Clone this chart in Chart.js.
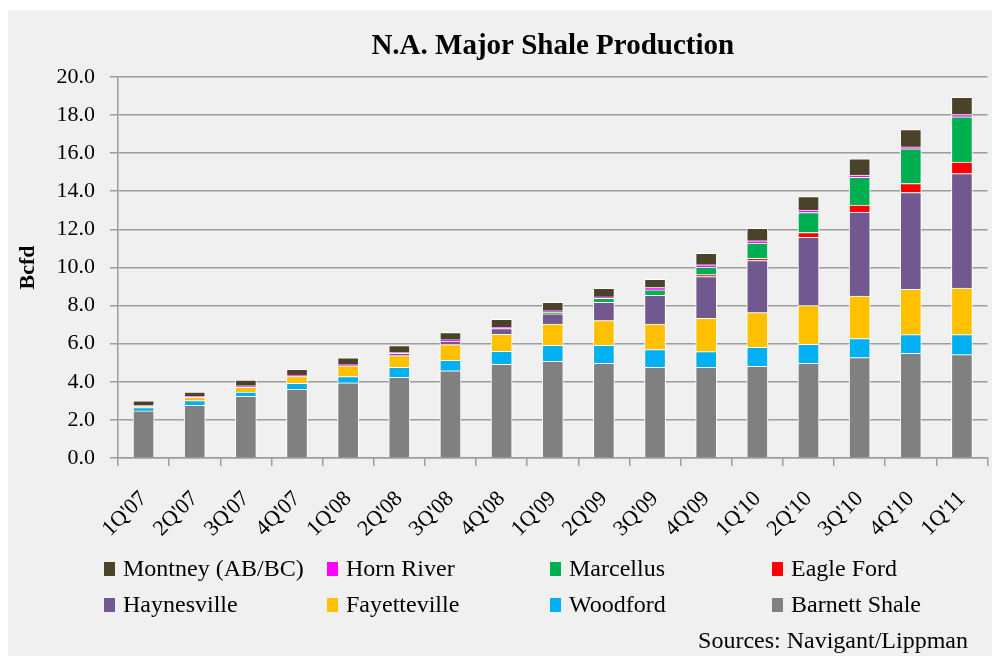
<!DOCTYPE html>
<html lang="en">
<head>
<meta charset="utf-8">
<title>N.A. Major Shale Production</title>
<script src="https://cdn.jsdelivr.net/npm/chart.js@4.4.1/dist/chart.umd.min.js"></script>
<style>
  body { margin: 0; background: #fff; }
  #wrap { width: 1001px; height: 656px; }
</style>
</head>
<body>
<div id="wrap"><canvas id="chart" width="1001" height="656"></canvas></div>
<script>
const quarters = ["1Q'07", "2Q'07", "3Q'07", "4Q'07", "1Q'08", "2Q'08", "3Q'08", "4Q'08",
                  "1Q'09", "2Q'09", "3Q'09", "4Q'09", "1Q'10", "2Q'10", "3Q'10", "4Q'10", "1Q'11"];

// Bcfd per play, bottom of the stack first
const barnett      = [2.47, 2.76, 3.24, 3.60, 3.95, 4.23, 4.58, 4.92, 5.07, 4.97, 4.76, 4.76, 4.81, 4.97, 5.27, 5.49, 5.42];
const woodford     = [0.17, 0.25, 0.22, 0.32, 0.32, 0.53, 0.55, 0.68, 0.84, 0.94, 0.93, 0.82, 1.00, 1.00, 1.00, 0.98, 1.05];
const fayetteville = [0.07, 0.17, 0.25, 0.35, 0.56, 0.61, 0.82, 0.89, 1.12, 1.30, 1.34, 1.75, 1.82, 2.03, 2.22, 2.38, 2.45];
const haynesville  = [0.00, 0.00, 0.03, 0.03, 0.04, 0.12, 0.19, 0.30, 0.53, 0.96, 1.51, 2.19, 2.73, 3.58, 4.41, 5.08, 6.00];
const eagleFord    = [0.00, 0.00, 0.00, 0.00, 0.00, 0.00, 0.00, 0.00, 0.00, 0.00, 0.00, 0.10, 0.12, 0.25, 0.37, 0.47, 0.60];
const marcellus    = [0.00, 0.00, 0.00, 0.00, 0.00, 0.00, 0.00, 0.00, 0.08, 0.21, 0.28, 0.40, 0.80, 1.05, 1.45, 1.82, 2.38];
const hornRiver    = [0.04, 0.06, 0.05, 0.05, 0.05, 0.06, 0.06, 0.07, 0.08, 0.07, 0.12, 0.12, 0.12, 0.13, 0.12, 0.10, 0.12];
const montney      = [0.25, 0.22, 0.30, 0.30, 0.33, 0.35, 0.38, 0.42, 0.45, 0.45, 0.44, 0.60, 0.65, 0.70, 0.86, 0.91, 0.90];

const seriesNames  = ['Barnett Shale', 'Woodford', 'Fayetteville', 'Haynesville', 'Eagle Ford', 'Marcellus', 'Horn River', 'Montney (AB/BC)'];
const seriesData   = [barnett, woodford, fayetteville, haynesville, eagleFord, marcellus, hornRiver, montney];
const seriesColors = ['#808080', '#00b0f0', '#ffc000', '#71588f', '#ff0000', '#00b050', '#ff00ff', '#4a4229'];

const FONT = "'Liberation Serif', 'Times New Roman', serif";
const GRID = '#9c9c9c';

// light grey panel with a thin white margin
const framePlugin = {
    id: 'frame',
    beforeDraw(chart) {
        const ctx = chart.ctx;
        ctx.save();
        ctx.fillStyle = '#ffffff';
        ctx.fillRect(0, 0, chart.width, chart.height);
        ctx.fillStyle = '#f0f0f0';
        ctx.fillRect(8, 10, 984, 646);
        ctx.restore();
    }
};

// 4-column legend (top of stack first) plus source note
const legendPlugin = {
    id: 'gridLegend',
    afterDraw(chart) {
        const ctx = chart.ctx;
        const colX = [104, 327, 550, 772];
        const rowY = [569, 605];
        ctx.save();
        ctx.font = '24px ' + FONT;
        ctx.textBaseline = 'middle';
        ctx.textAlign = 'left';
        const sets = chart.data.datasets.slice().reverse();
        sets.forEach((ds, k) => {
            const x = colX[k % 4];
            const y = rowY[Math.floor(k / 4)];
            ctx.fillStyle = ds.backgroundColor;
            ctx.fillRect(x, y - 7, 11, 14);
            ctx.fillStyle = '#000';
            ctx.fillText(ds.label, x + 19, y + 1);
        });
        ctx.textAlign = 'right';
        ctx.fillText('Sources: Navigant/Lippman', 968, 642);
        ctx.restore();
    }
};

new Chart(document.getElementById('chart'), {
    type: 'bar',
    data: {
        labels: quarters,
        datasets: seriesNames.map((name, i) => ({
            label: name,
            data: seriesData[i],
            backgroundColor: seriesColors[i],
            borderColor: '#ffffff',
            borderWidth: 1,
            barThickness: 21
        }))
    },
    options: {
        responsive: false,
        animation: false,
        layout: { padding: { left: 8, top: 10, right: 12, bottom: 0 } },
        plugins: {
            legend: { display: false },
            tooltip: { enabled: false },
            title: {
                display: true,
                fullSize: false,
                text: 'N.A. Major Shale Production',
                color: '#000',
                font: { family: FONT, size: 29, weight: 'bold' },
                padding: { top: 19, bottom: 13 }
            }
        },
        scales: {
            x: {
                stacked: true,
                grid: { drawOnChartArea: false, color: GRID, lineWidth: 1.5, tickLength: 8 },
                border: { color: GRID, width: 1.5 },
                ticks: {
                    color: '#000',
                    font: { family: FONT, size: 22 },
                    minRotation: 45,
                    maxRotation: 45,
                    autoSkip: false,
                    padding: 20
                },
                afterFit(scale) { scale.height = 198; }
            },
            y: {
                stacked: true,
                min: 0,
                max: 20,
                grid: { color: GRID, lineWidth: 1.5, tickLength: 8 },
                border: { color: GRID, width: 1.5 },
                ticks: {
                    stepSize: 2,
                    color: '#000',
                    font: { family: FONT, size: 22 },
                    padding: 15,
                    callback: v => v.toFixed(1)
                },
                title: {
                    display: true,
                    text: 'Bcfd',
                    color: '#000',
                    font: { family: FONT, size: 22, weight: 'bold' },
                    padding: { top: 7, bottom: 0 }
                },
                afterFit(scale) { scale.width = 110; }
            }
        }
    },
    plugins: [framePlugin, legendPlugin]
});
</script>
</body>
</html>
